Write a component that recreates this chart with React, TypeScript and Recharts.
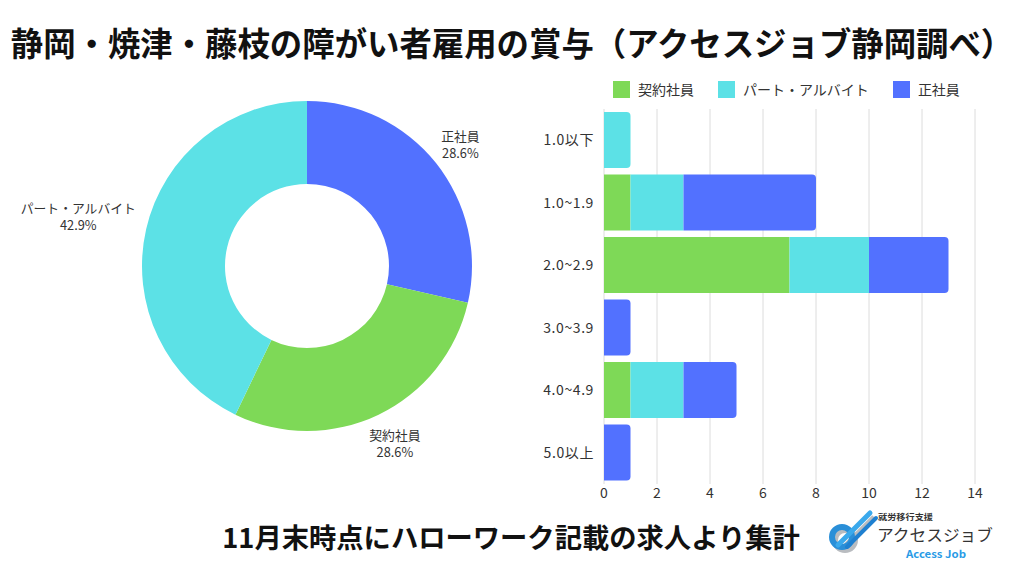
import React from 'react';
import {
  PieChart,
  Pie,
  Cell,
  BarChart,
  Bar,
  XAxis,
  YAxis,
  CartesianGrid,
  Legend,
  Rectangle,
} from 'recharts';

const TITLE = '静岡・焼津・藤枝の障がい者雇用の賞与（アクセスジョブ静岡調べ）';
const FOOTNOTE = '11月末時点にハローワーク記載の求人より集計';

// Donut data
const pieNames = ['正社員', '契約社員', 'パート・アルバイト'];
const pieValues = [2, 2, 3];
const pieColors = ['#5271FF', '#7ED957', '#5CE1E6'];

// Stacked bar data
const bonusCategories = ['1.0以下', '1.0~1.9', '2.0~2.9', '3.0~3.9', '4.0~4.9', '5.0以上'];
const contractValues = [0, 1, 7, 0, 1, 0];
const partValues = [1, 2, 3, 0, 2, 0];
const regularValues = [0, 5, 3, 1, 2, 1];
const xTicks = [0, 2, 4, 6, 8, 10, 12, 14];

const seriesKeys = ['contract', 'part', 'regular'];
const seriesNames = ['契約社員', 'パート・アルバイト', '正社員'];
const seriesColors = ['#7ED957', '#5CE1E6', '#5271FF'];

const FONT = '"Noto Sans CJK JP", "Noto Sans", sans-serif';

const pieData = pieNames.map((name, i) => ({ name, value: pieValues[i] }));
const barData = bonusCategories.map((name, i) => ({
  name,
  contract: contractValues[i],
  part: partValues[i],
  regular: regularValues[i],
}));

const RADIAN = Math.PI / 180;

const renderPieLabel = (props: any) => {
  const { cx, cy, midAngle, outerRadius, name, percent } = props;
  const cos = Math.cos(-midAngle * RADIAN);
  const sin = Math.sin(-midAngle * RADIAN);
  const r = outerRadius + 31;
  const textW = String(name).length * 12.8;
  const shift = Math.max(0, textW / 2 - 19) * cos;
  const x = cx + r * cos + shift;
  const y = cy + r * sin - (cos < -0.5 ? 6 : 0);
  return (
    <g>
      <text x={x} y={y - 8.5} textAnchor="middle" dominantBaseline="central" fontSize={12.8} fill="#333" fontFamily={FONT}>
        {name}
      </text>
      <text x={x} y={y + 8.5} textAnchor="middle" dominantBaseline="central" fontSize={12.8} fill="#333" fontFamily={FONT}>
        {(percent * 100).toFixed(1)}%
      </text>
    </g>
  );
};

const makeShape = (key: string) => (props: any) => {
  const { payload } = props;
  const idx = seriesKeys.indexOf(key);
  let last = true;
  for (let j = idx + 1; j < seriesKeys.length; j++) {
    if (payload && payload[seriesKeys[j]] > 0) last = false;
  }
  if (!props.width || props.width <= 0) return <g />;
  return <Rectangle {...props} radius={last ? [0, 4, 4, 0] : 0} />;
};

const LegendContent = (props: any) => {
  const payload = [...(props.payload || [])].sort(
    (a: any, b: any) => seriesNames.indexOf(a.value) - seriesNames.indexOf(b.value)
  );
  return (
    <div style={{ display: 'flex', alignItems: 'center', height: 40, fontFamily: FONT }}>
      {payload.map((p: any, i: number) => (
        <div key={i} style={{ display: 'flex', alignItems: 'center', marginRight: 24 }}>
          <div style={{ width: 17, height: 17, background: p.color, marginRight: 8 }} />
          <span style={{ fontSize: 14, color: '#333', whiteSpace: 'nowrap' }}>{p.value}</span>
        </div>
      ))}
    </div>
  );
};

const Logo = () => (
  <svg width={190} height={60} style={{ position: 'absolute', left: 820, top: 505 }}>
    <circle cx={25} cy={35} r={10} fill="none" stroke="#b9bcc0" strokeWidth={6} />
    <line x1={22} y1={44} x2={54} y2={12} stroke="#b9bcc0" strokeWidth={5} />
    <circle cx={22} cy={32} r={10} fill="none" stroke="#2a8fd8" strokeWidth={6} />
    <line x1={18} y1={40} x2={50} y2={8} stroke="#3aa9ec" strokeWidth={5} strokeLinecap="round" />
    <line x1={27} y1={42} x2={56} y2={13} stroke="#1f80d0" strokeWidth={4} strokeLinecap="round" />
    <text x={58} y={14.5} fontSize={8} fill="#333" fontFamily={FONT} fontWeight={700} textLength={55} lengthAdjust="spacingAndGlyphs">
      就労移行支援
    </text>
    <text x={57} y={36} fontSize={16} fill="#333" fontFamily={FONT} textLength={116} lengthAdjust="spacingAndGlyphs">
      アクセスジョブ
    </text>
    <text x={86} y={52.5} fontSize={10} fill="#2a9be6" fontFamily={FONT} fontWeight={700} textLength={60} lengthAdjust="spacingAndGlyphs">
      Access Job
    </text>
  </svg>
);

export default function App() {
  return (
    <div
      style={{
        position: 'absolute',
        left: 0,
        top: 0,
        width: 1024,
        height: 576,
        background: '#ffffff',
        overflow: 'hidden',
        fontFamily: FONT,
      }}
    >
      <div
        style={{
          position: 'absolute',
          top: 26,
          left: 0,
          width: 1024,
          textAlign: 'center',
          fontSize: 32.4,
          fontWeight: 700,
          lineHeight: 1,
          color: '#111',
          whiteSpace: 'nowrap',
        }}
      >
        {TITLE}
      </div>

      <div style={{ position: 'absolute', left: 0, top: 0 }}>
        <PieChart width={520} height={520} margin={{ top: 0, right: 0, bottom: 0, left: 0 }}>
          <Pie
            data={pieData}
            dataKey="value"
            nameKey="name"
            cx={307}
            cy={266}
            innerRadius={82}
            outerRadius={165}
            startAngle={90}
            endAngle={-270}
            stroke="none"
            label={renderPieLabel}
            labelLine={false}
            isAnimationActive={false}
          >
            {pieData.map((d, i) => (
              <Cell key={d.name} fill={pieColors[i]} />
            ))}
          </Pie>
        </PieChart>
      </div>

      <div style={{ position: 'absolute', left: 500, top: 60 }}>
        <BarChart
          width={500}
          height={460}
          data={barData}
          layout="vertical"
          margin={{ top: 9, right: 25, bottom: 6, left: 0 }}
        >
          <CartesianGrid horizontal={false} stroke="#dcdcdc" />
          <XAxis
            type="number"
            domain={[0, 14]}
            ticks={xTicks}
            axisLine={false}
            tickLine={false}
            tickSize={0}
            tickMargin={4}
            tick={{ fontSize: 14, fill: '#333', fontFamily: FONT }}
            interval={0}
          />
          <YAxis
            type="category"
            dataKey="name"
            width={104}
            axisLine={false}
            tickLine={false}
            tickSize={0}
            tickMargin={10}
            tick={{ fontSize: 14, fill: '#333', fontFamily: FONT, letterSpacing: 0.6 }}
            interval={0}
          />
          <Legend verticalAlign="top" content={<LegendContent />} wrapperStyle={{ left: 113, width: 380 }} />
          {seriesKeys.map((k, i) => (
            <Bar
              key={k}
              dataKey={k}
              name={seriesNames[i]}
              stackId="a"
              fill={seriesColors[i]}
              barSize={56}
              shape={makeShape(k)}
              isAnimationActive={false}
            />
          ))}
        </BarChart>
      </div>

      <div
        style={{
          position: 'absolute',
          top: 523,
          left: 0,
          width: 1022,
          textAlign: 'center',
          fontSize: 27.3,
          fontWeight: 700,
          lineHeight: 1,
          color: '#111',
          whiteSpace: 'nowrap',
        }}
      >
        {FOOTNOTE}
      </div>

      <Logo />
    </div>
  );
}
